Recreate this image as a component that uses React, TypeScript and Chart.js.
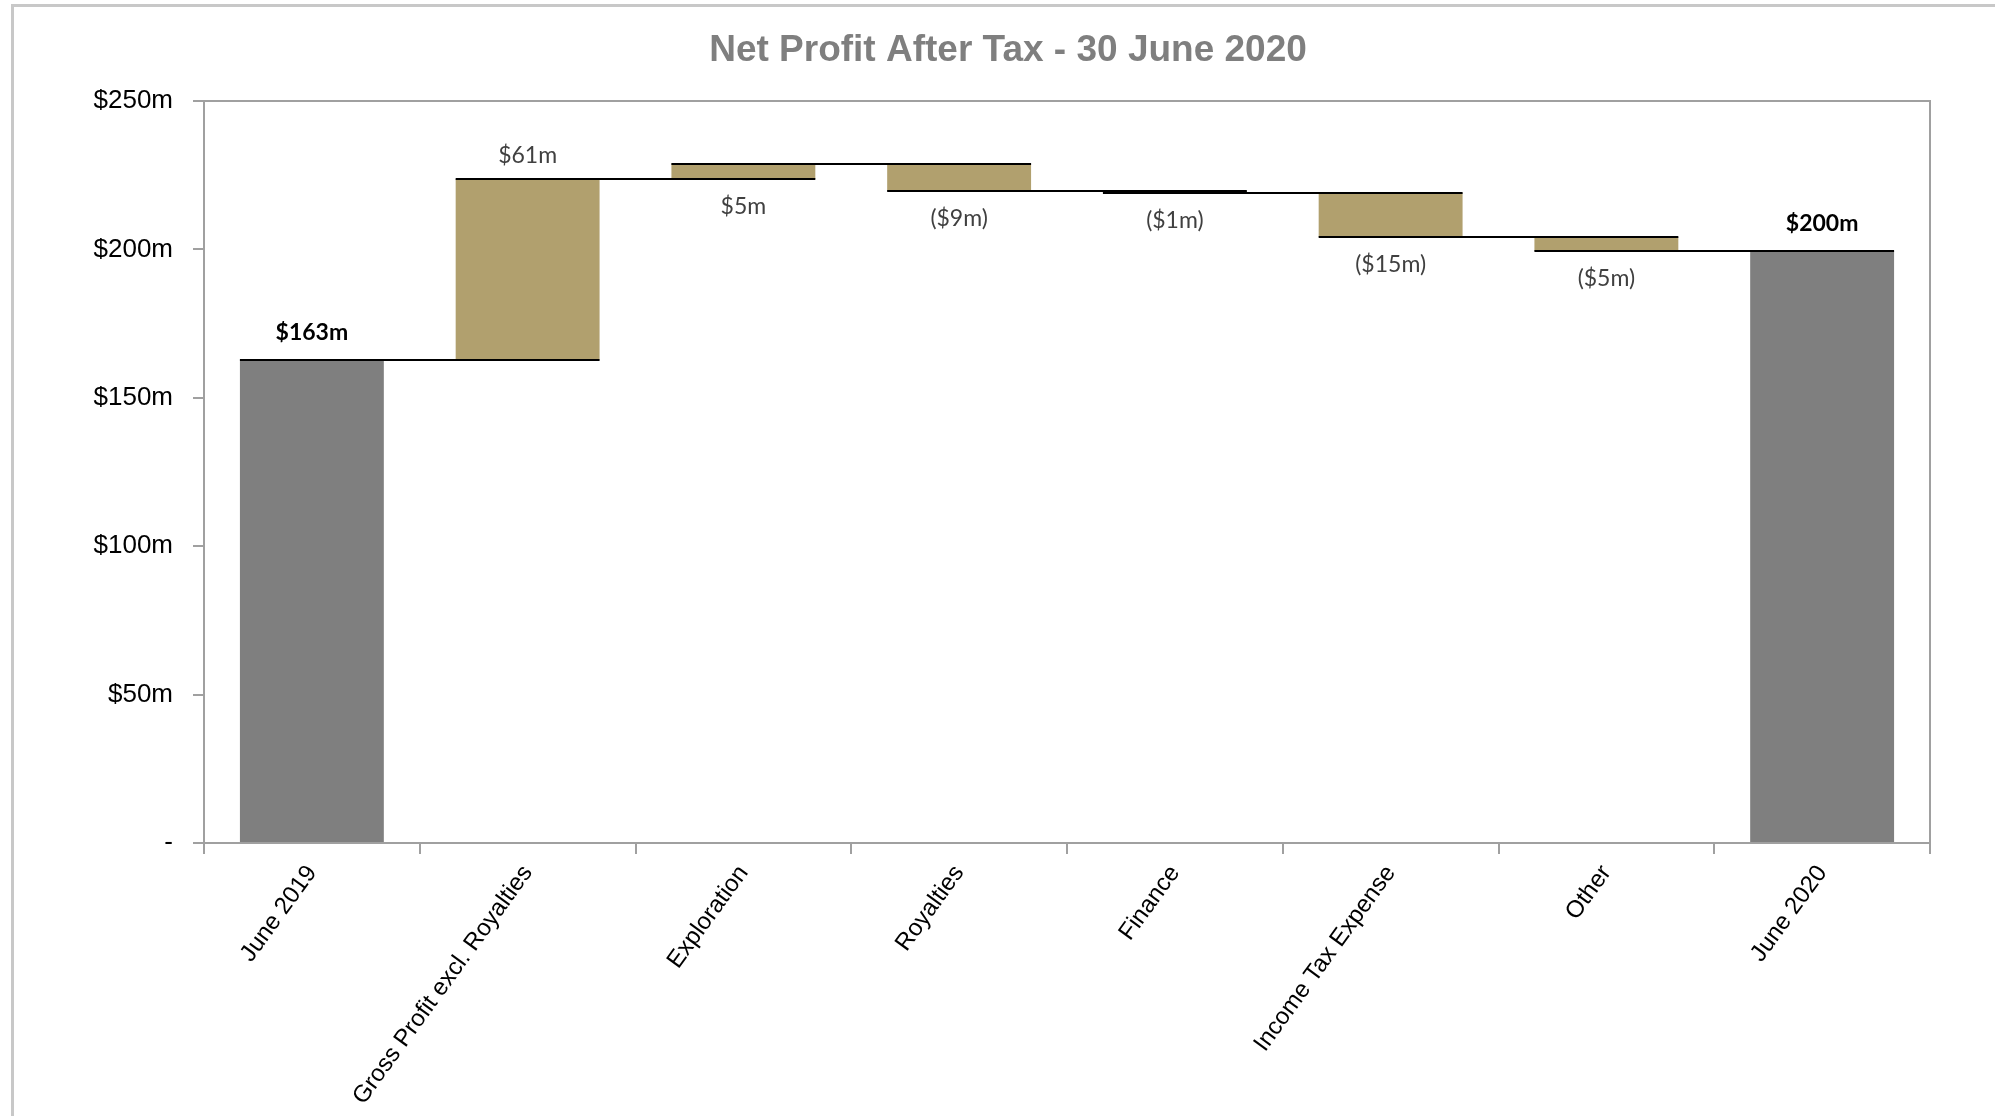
import React, { useEffect, useRef } from 'react';
import { Chart, registerables } from 'chart.js';

Chart.register(...registerables);

const chartTitle = 'Net Profit After Tax - 30 June 2020';
const categories = [
  'June 2019',
  'Gross Profit excl. Royalties',
  'Exploration',
  'Royalties',
  'Finance',
  'Income Tax Expense',
  'Other',
  'June 2020',
];
const values = [162.9, 60.8, 5.2, -9.2, -0.6, -14.9, -4.7, 199.5];
const isTotal = [true, false, false, false, false, false, false, true];
const yTickValues = [0, 50, 100, 150, 200, 250];

const TOTAL_COLOR = '#7F7F7F';
const STEP_COLOR = '#B1A06E';
const AXIS_COLOR = '#A0A0A0';

function fmt(v: number): string {
  const r = Math.round(Math.abs(v));
  return v < 0 ? `($${r}m)` : `$${r}m`;
}

function buildRanges() {
  const ranges: [number, number][] = [];
  const levels: number[] = [];
  let running = 0;
  values.forEach((v, i) => {
    if (isTotal[i]) {
      ranges.push([0, v]);
      running = v;
    } else {
      ranges.push([running, running + v]);
      running += v;
    }
    levels.push(running);
  });
  return { ranges, levels };
}

export default function App() {
  const ref = useRef<HTMLCanvasElement | null>(null);

  useEffect(() => {
    document.body.style.margin = '0';
    const canvas = ref.current;
    if (!canvas) return;
    const { ranges, levels } = buildRanges();

    const waterfallPlugin = {
      id: 'waterfallExtras',
      afterDatasetsDraw(chart: any) {
        const ctx = chart.ctx;
        const meta = chart.getDatasetMeta(0);
        const y = chart.scales.y;
        const area = chart.chartArea;
        ctx.save();
        // connectors / bar edges
        ctx.strokeStyle = '#000000';
        ctx.lineWidth = 2;
        for (let i = 0; i < meta.data.length - 1; i++) {
          const a = meta.data[i].getProps(['x', 'width'], true);
          const b = meta.data[i + 1].getProps(['x', 'width'], true);
          const py = Math.round(y.getPixelForValue(levels[i]));
          ctx.beginPath();
          ctx.moveTo(a.x - a.width / 2, py);
          ctx.lineTo(b.x + b.width / 2, py);
          ctx.stroke();
        }
        // plot frame
        ctx.strokeStyle = AXIS_COLOR;
        ctx.lineWidth = 2;
        ctx.strokeRect(area.left, area.top, area.right - area.left, area.bottom - area.top);
        // data labels
        ctx.textAlign = 'center';
        ctx.textBaseline = 'middle';
        meta.data.forEach((bar: any, i: number) => {
          const p = bar.getProps(['x'], true);
          const hi = Math.max(ranges[i][0], ranges[i][1]);
          const lo = Math.min(ranges[i][0], ranges[i][1]);
          const above = isTotal[i] || i === 1;
          const gap = isTotal[i] ? 27 : 23;
          const py = above ? y.getPixelForValue(hi) - gap : y.getPixelForValue(lo) + 28;
          ctx.font = isTotal[i] ? 'bold 23px Lato' : '23px Lato';
          ctx.fillStyle = isTotal[i] ? '#000000' : '#404040';
          ctx.fillText(fmt(values[i]), p.x, py);
        });
        // title
        ctx.font = 'bold 37px "Liberation Sans"';
        ctx.fillStyle = '#7F7F7F';
        ctx.fillText(chartTitle, 1008, 51);
        ctx.restore();
      },
    };

    const chart = new Chart(canvas, {
      type: 'bar',
      data: {
        labels: categories,
        datasets: [
          {
            data: ranges as any,
            backgroundColor: values.map((_, i) => (isTotal[i] ? TOTAL_COLOR : STEP_COLOR)),
            borderWidth: 0,
            barPercentage: 0.667,
            categoryPercentage: 1,
          },
        ],
      },
      options: {
        responsive: false,
        animation: false,
        layout: { padding: { top: 101, right: 65, left: 0, bottom: 0 } },
        plugins: {
          legend: { display: false },
          title: { display: false },
          tooltip: { enabled: false },
        },
        scales: {
          x: {
            grid: {
              offset: true,
              drawOnChartArea: false,
              drawTicks: true,
              tickLength: 11,
              color: AXIS_COLOR,
              lineWidth: 2,
            },
            border: { display: false },
            ticks: {
              minRotation: 54,
              maxRotation: 54,
              autoSkip: false,
              padding: 6,
              color: '#000000',
              font: { family: '"Liberation Sans", Arial, sans-serif', size: 24 },
            },
            afterFit(scale: any) {
              scale.height = 273;
            },
          },
          y: {
            min: 0,
            max: 250,
            afterBuildTicks(scale: any) {
              scale.ticks = yTickValues.map((v) => ({ value: v }));
            },
            grid: {
              drawOnChartArea: false,
              drawTicks: true,
              tickLength: 11,
              color: AXIS_COLOR,
              lineWidth: 2,
            },
            border: { display: false },
            ticks: {
              padding: 20,
              color: '#000000',
              font: { family: '"Liberation Sans", Arial, sans-serif', size: 26 },
              callback: (v: any) => (Number(v) === 0 ? '-' : `$${v}m`),
            },
            afterFit(scale: any) {
              scale.width = 204;
            },
          },
        },
      },
      plugins: [waterfallPlugin],
    });

    return () => chart.destroy();
  }, []);

  return (
    <div>
      <div
        style={{
          position: 'fixed',
          left: 11,
          top: 4,
          width: 3000,
          height: 3000,
          borderLeft: '3px solid #C8C8C8',
          borderTop: '3px solid #C8C8C8',
        }}
      />
      <canvas
        ref={ref}
        width={1995}
        height={1116}
        style={{ position: 'fixed', left: 0, top: 0, display: 'block' }}
      />
    </div>
  );
}
